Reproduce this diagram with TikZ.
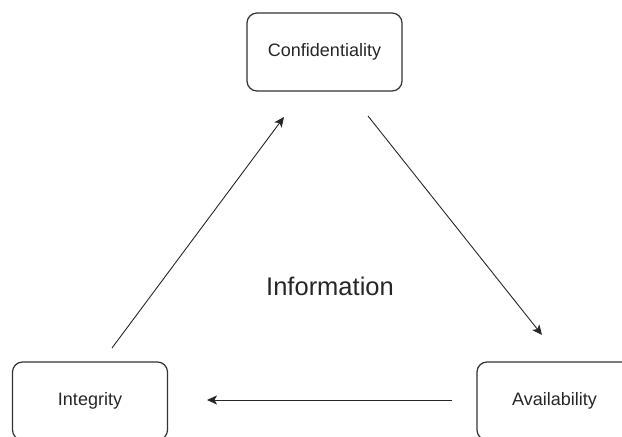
\documentclass[tikz,border=0pt]{standalone}
\usepackage{fontspec}
\setmainfont{Liberation Sans}
\usetikzlibrary{arrows.meta,calc,positioning}

\begin{document}
\begin{tikzpicture}[x=1pt, y=-1pt,
    ciabox/.style={draw=black!80, line width=1.2pt, rounded corners=10pt,
      minimum width=155pt, minimum height=78pt, inner sep=0pt,
      font=\fontsize{18}{21}\selectfont, text=black!85},
    ciaarrow/.style={-{Stealth[length=10pt, width=9pt, inset=2.5pt]}, black!85, line width=0.9pt}]
  \def\bw{622}
  \def\bh{437}

  % Fixed bounding box
  \path[use as bounding box] (0,0) rectangle (\bw,\bh);
  \clip (0,0) rectangle (\bw,\bh);

  % The three boxes
  \node[ciabox] (conf) at (324.5,52) {Confidentiality};
  \node[ciabox] (integ) at (90,401) {Integrity};
  \node[ciabox] (avail) at (554.5,401) {Availability};

  % Label in the middle
  \node[font=\fontsize{25.5}{30}\selectfont, text=black!85] (info) at (330,286) {Information};

  % Arrow ends
  \coordinate (integout) at (112,348);
  \coordinate (confin) at (284,117);
  \coordinate (confout) at (368,116);
  \coordinate (availin) at (542,335);
  \coordinate (availout) at (452,400);
  \coordinate (integin) at (207,400);

  % Arrows round the triangle
  \draw[ciaarrow] (integout) -- (confin);
  \draw[ciaarrow] (confout) -- (availin);
  \draw[ciaarrow] (availout) -- (integin);

\end{tikzpicture}
\end{document}
